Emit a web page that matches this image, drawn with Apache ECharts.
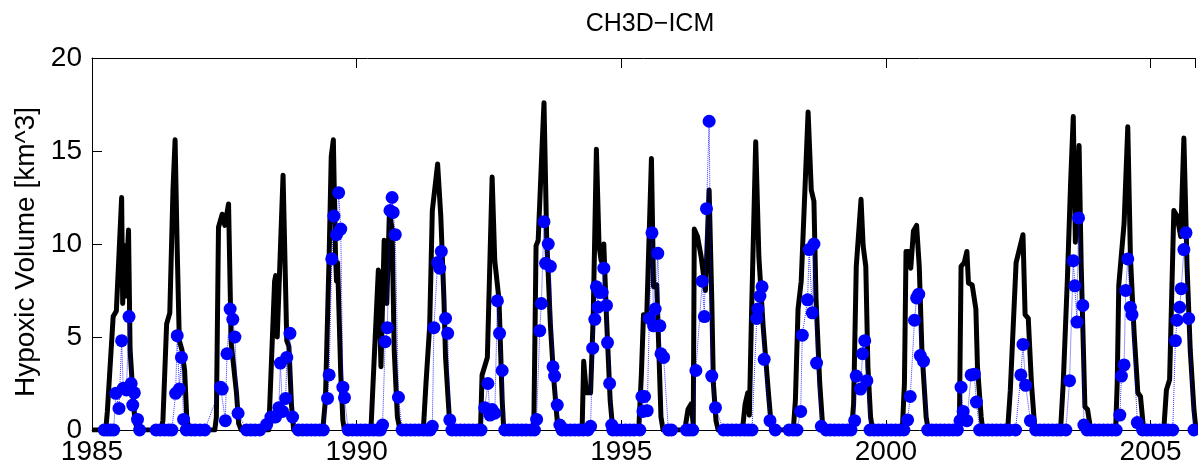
<!DOCTYPE html>
<html>
<head>
<meta charset="utf-8">
<title>CH3D-ICM</title>
<script src="https://cdn.jsdelivr.net/npm/echarts@6/dist/echarts.min.js"></script>
<style>
  html, body { margin: 0; padding: 0; background: #fff; }
  #chart { width: 1198px; height: 467px; }
</style>
</head>
<body>
<div id="chart"></div>
<script>
// model hypoxic volume (black line): [decimal year, km^3]
const model = [
  [1985.0,0],[1985.26,0],[1985.29,1.0],[1985.31,0.9],[1985.40,6.1],[1985.46,6.4],[1985.56,12.5],[1985.58,6.8],[1985.62,9.9],[1985.63,7.2],[1985.69,10.75],[1985.72,4.3],[1985.76,2.5],[1985.81,0.5],[1985.86,0],
  [1986.30,0],[1986.34,0.5],[1986.41,5.7],[1986.47,6.3],[1986.53,12.9],[1986.57,15.6],[1986.61,9.7],[1986.65,4.8],[1986.70,4.3],[1986.75,3.2],[1986.79,0.7],[1986.83,0],
  [1987.32,0],[1987.35,0.7],[1987.39,10.9],[1987.46,11.6],[1987.51,11.0],[1987.58,12.15],[1987.63,4.66],[1987.73,2.0],[1987.77,0.36],[1987.82,0],
  [1988.34,0],[1988.45,8.0],[1988.47,8.3],[1988.50,5.0],[1988.61,13.7],[1988.68,4.8],[1988.72,4.5],[1988.77,1.3],[1988.81,0],
  [1989.36,0],[1989.41,1.6],[1989.48,9.3],[1989.52,14.7],[1989.56,15.6],[1989.60,9.5],[1989.62,8.0],[1989.64,9.0],[1989.70,3.0],[1989.74,0.5],[1989.77,0],
  [1990.27,0],[1990.31,2.5],[1990.41,8.6],[1990.46,3.4],[1990.52,10.2],[1990.57,6.8],[1990.62,11.8],[1990.67,10.75],[1990.71,4.3],[1990.77,0.7],[1990.82,0],
  [1991.26,0],[1991.31,2.5],[1991.38,5.6],[1991.43,11.8],[1991.53,14.3],[1991.59,11.5],[1991.65,7.0],[1991.68,3.9],[1991.75,0.7],[1991.78,0],
  [1992.34,0],[1992.37,2.96],[1992.47,3.9],[1992.52,9.3],[1992.56,13.6],[1992.61,9.1],[1992.69,7.0],[1992.75,1.6],[1992.78,0],
  [1993.33,0],[1993.35,0.7],[1993.39,9.9],[1993.43,10.2],[1993.50,15.0],[1993.54,17.6],[1993.59,10.4],[1993.66,5.7],[1993.72,2.9],[1993.79,0.5],[1993.84,0],
  [1994.26,0],[1994.29,3.7],[1994.34,2.0],[1994.42,2.0],[1994.47,6.1],[1994.53,15.1],[1994.58,9.9],[1994.62,9.1],[1994.67,10.0],[1994.72,6.1],[1994.79,1.6],[1994.84,0],
  [1995.33,0],[1995.38,3.0],[1995.42,6.2],[1995.48,6.0],[1995.57,14.6],[1995.61,7.7],[1995.67,7.8],[1995.75,0.7],[1995.79,0],
  [1996.20,0],[1996.26,1.1],[1996.32,1.4],[1996.36,0.3],[1996.38,10.8],[1996.44,10.4],[1996.51,9.3],[1996.59,7.5],[1996.66,12.9],[1996.71,7.0],[1996.74,2.5],[1996.79,0.5],[1996.83,0],
  [1997.29,0],[1997.34,1.4],[1997.39,2.0],[1997.42,0.8],[1997.46,6.1],[1997.54,15.5],[1997.60,9.3],[1997.68,5.6],[1997.78,2.0],[1997.84,0],
  [1998.25,0],[1998.29,1.6],[1998.34,6.5],[1998.40,8.0],[1998.53,17.1],[1998.59,12.9],[1998.64,12.3],[1998.68,7.0],[1998.75,2.5],[1998.81,0],
  [1999.35,0],[1999.39,1.4],[1999.44,8.8],[1999.53,12.4],[1999.57,9.9],[1999.62,8.8],[1999.66,3.4],[1999.71,0.7],[1999.75,0],
  [2000.31,0],[2000.35,2.5],[2000.38,9.6],[2000.43,9.6],[2000.47,8.7],[2000.52,10.7],[2000.58,11.0],[2000.63,8.8],[2000.68,4.3],[2000.76,0.7],[2000.80,0],
  [2001.35,0],[2001.39,0.7],[2001.42,8.8],[2001.48,9.0],[2001.53,9.6],[2001.56,7.9],[2001.63,7.8],[2001.70,6.5],[2001.73,3.4],[2001.80,0.7],[2001.83,0],
  [2002.30,0],[2002.35,2.1],[2002.46,9.0],[2002.59,10.5],[2002.63,6.2],[2002.69,6.0],[2002.75,2.5],[2002.81,0.2],[2002.84,0],
  [2003.30,0],[2003.35,2.5],[2003.43,8.2],[2003.49,13.3],[2003.54,16.85],[2003.58,10.1],[2003.65,15.3],[2003.69,8.8],[2003.76,1.25],[2003.81,1.1],[2003.87,0],
  [2004.34,0],[2004.37,2.5],[2004.40,7.8],[2004.50,11.1],[2004.57,16.3],[2004.62,9.3],[2004.69,5.2],[2004.76,2.0],[2004.81,1.8],[2004.87,0],
  [2005.25,0],[2005.30,2.15],[2005.36,2.7],[2005.44,11.8],[2005.50,11.5],[2005.57,10.4],[2005.63,15.7],[2005.69,8.8],[2005.75,4.3],[2005.82,1.1],[2005.86,0]
];

// observed hypoxic volume (blue dots): [decimal year, km^3]
const observed = [
  [1985.23,0],[1985.29,0],[1985.35,0],[1985.41,0],[1985.45,1.97],[1985.51,1.16],[1985.56,4.8],[1985.59,2.24],[1985.65,2.15],[1985.70,6.1],[1985.74,2.5],[1985.77,1.34],[1985.80,2.0],[1985.86,0.57],[1985.90,0],
  [1986.21,0],[1986.29,0],[1986.37,0],[1986.45,0],[1986.51,0],[1986.58,1.97],[1986.61,5.07],[1986.65,2.2],[1986.69,3.9],[1986.73,0.57],[1986.78,0],[1986.87,0],[1986.95,0],[1987.04,0],[1987.13,0],
  [1987.43,2.3],[1987.46,2.2],[1987.52,0.5],[1987.55,4.1],[1987.61,6.5],[1987.66,5.95],[1987.70,5.0],[1987.76,0.9],[1987.92,0],[1988.00,0],[1988.08,0],[1988.17,0],
  [1988.30,0.3],[1988.38,0.7],[1988.43,0.7],[1988.47,0.7],[1988.53,1.2],[1988.56,3.6],[1988.60,1.0],[1988.66,1.7],[1988.68,3.9],[1988.74,5.2],[1988.79,0.7],
  [1988.90,0],[1988.98,0],[1989.06,0],[1989.14,0],[1989.22,0],[1989.30,0],[1989.37,0],
  [1989.45,1.7],[1989.48,2.96],[1989.53,9.2],[1989.57,11.5],[1989.62,10.5],[1989.66,12.76],[1989.70,10.8],[1989.74,2.3],[1989.77,1.74],
  [1989.84,0],[1989.92,0],[1990.00,0],[1990.08,0],[1990.16,0],[1990.24,0],[1990.32,0],[1990.40,0],[1990.45,0],
  [1990.49,0.27],[1990.54,4.75],[1990.58,5.5],[1990.63,11.8],[1990.67,12.5],[1990.69,11.7],[1990.73,10.5],[1990.79,1.76],
  [1990.86,0],[1990.94,0],[1991.02,0],[1991.10,0],[1991.18,0],[1991.26,0],[1991.33,0],[1991.39,0],
  [1991.43,0.2],[1991.46,5.5],[1991.53,9.0],[1991.57,8.7],[1991.60,9.6],[1991.68,6.0],[1991.72,5.2],[1991.76,0.54],
  [1991.80,0],[1991.88,0],[1991.96,0],[1992.04,0],[1992.12,0],[1992.20,0],[1992.28,0],[1992.35,0],
  [1992.42,1.2],[1992.48,2.5],[1992.52,0.8],[1992.56,1.1],[1992.61,0.9],[1992.66,6.95],[1992.70,5.2],[1992.75,3.2],
  [1992.80,0],[1992.88,0],[1992.96,0],[1993.04,0],[1993.12,0],[1993.20,0],[1993.29,0],[1993.36,0],
  [1993.40,0.57],[1993.46,5.34],[1993.49,6.8],[1993.54,11.2],[1993.57,8.96],[1993.62,10.0],[1993.66,8.8],[1993.71,3.4],[1993.74,2.9],[1993.79,1.34],[1993.84,0.27],
  [1993.88,0],[1993.96,0],[1994.04,0],[1994.12,0],[1994.20,0],[1994.28,0],[1994.37,0],
  [1994.42,0.2],[1994.46,4.4],[1994.50,5.95],[1994.53,7.7],[1994.56,6.6],[1994.59,7.4],[1994.64,7.4],[1994.67,8.7],[1994.72,6.7],[1994.74,4.7],[1994.78,2.5],[1994.82,0.27],
  [1994.84,0],[1994.92,0],[1995.00,0],[1995.08,0],[1995.16,0],[1995.24,0],[1995.35,0],
  [1995.39,1.8],[1995.41,1.0],[1995.44,1.8],[1995.49,1.04],[1995.53,6.0],[1995.58,10.6],[1995.61,5.6],[1995.64,6.5],[1995.69,9.5],[1995.73,5.6],[1995.75,4.1],[1995.80,3.9],
  [1995.89,0],[1995.95,0],[1996.23,0],[1996.29,0],[1996.35,0],
  [1996.41,3.2],[1996.53,8.0],[1996.57,6.1],[1996.61,11.9],[1996.66,16.6],[1996.71,2.9],[1996.78,1.2],
  [1996.93,0],[1997.01,0],[1997.09,0],[1997.17,0],[1997.25,0],[1997.33,0],[1997.40,0],[1997.47,0],
  [1997.56,6.0],[1997.58,6.5],[1997.62,7.2],[1997.66,7.7],[1997.70,3.8],[1997.81,0.5],
  [1997.91,0],[1998.17,0],[1998.25,0],[1998.32,0],
  [1998.39,1.0],[1998.42,5.1],[1998.52,7.0],[1998.55,9.7],[1998.61,6.3],[1998.64,10.0],[1998.69,3.6],[1998.78,0.2],
  [1998.87,0],[1998.95,0],[1999.03,0],[1999.11,0],[1999.19,0],[1999.27,0],[1999.34,0],
  [1999.41,0.5],[1999.44,2.9],[1999.52,2.2],[1999.56,4.1],[1999.60,4.8],[1999.64,2.65],
  [1999.70,0],[1999.78,0],[1999.86,0],[1999.94,0],[2000.02,0],[2000.10,0],[2000.18,0],[2000.26,0],[2000.34,0],
  [2000.41,0.54],[2000.46,1.8],[2000.54,5.9],[2000.58,7.1],[2000.62,7.3],[2000.65,4.0],[2000.71,3.7],
  [2000.79,0],[2000.87,0],[2000.95,0],[2001.03,0],[2001.11,0],[2001.19,0],[2001.27,0],[2001.35,0],
  [2001.40,0.5],[2001.42,2.3],[2001.46,1.0],[2001.53,0.5],[2001.61,2.96],[2001.67,3.0],[2001.71,1.5],
  [2001.77,0],[2001.85,0],[2001.93,0],[2002.01,0],[2002.09,0],[2002.17,0],[2002.25,0],[2002.33,0],[2002.45,0],
  [2002.55,2.96],[2002.59,4.6],[2002.64,2.4],[2002.73,0.5],
  [2002.83,0],[2002.91,0],[2002.99,0],[2003.07,0],[2003.15,0],[2003.23,0],[2003.30,0],[2003.40,0],
  [2003.47,2.65],[2003.54,9.1],[2003.57,7.75],[2003.61,5.8],[2003.64,11.4],[2003.72,6.7],[2003.74,0.27],
  [2003.80,0],[2003.87,0],[2003.95,0],[2004.03,0],[2004.11,0],[2004.19,0],[2004.27,0],[2004.35,0],
  [2004.42,0.8],[2004.45,2.9],[2004.50,3.5],[2004.53,7.5],[2004.57,9.2],[2004.62,6.6],[2004.65,6.2],[2004.75,0.4],
  [2004.85,0],[2004.93,0],[2005.01,0],[2005.09,0],[2005.17,0],[2005.25,0],[2005.33,0],[2005.42,0],
  [2005.47,4.8],[2005.50,5.9],[2005.55,6.6],[2005.58,7.6],[2005.63,9.7],[2005.67,10.6],[2005.72,6.0],[2005.82,0]
];

const yearTicks = [1985, 1990, 1995, 2000, 2005];
const volumeTicks = [0, 5, 10, 15, 20];

const font = 'Liberation Sans';
const chart = echarts.init(document.getElementById('chart'));

const xBase = {
  type: 'value',
  min: 1985,
  max: 2005.84,
  interval: 5,
  axisLine: { onZero: false, lineStyle: { color: '#000', width: 1 } },
  axisTick: { inside: true, length: 10, lineStyle: { color: '#000' } },
  splitLine: { show: false }
};

chart.setOption({
  animation: false,
  backgroundColor: '#fff',
  title: {
    text: 'CH3D\u2212ICM',
    left: 645,
    textAlign: 'center',
    top: 7,
    textStyle: { fontFamily: font, fontSize: 25, fontWeight: 'normal', color: '#000' }
  },
  grid: { left: 92, right: 0, top: 58, bottom: 37 },
  xAxis: [
    Object.assign({}, xBase, {
      position: 'bottom',
      axisLabel: {
        fontFamily: font, fontSize: 28, color: '#000', margin: 8,
        formatter: v => yearTicks.includes(v) ? String(v) : ''
      }
    }),
    Object.assign({}, xBase, {
      position: 'top',
      axisLabel: { show: false }
    })
  ],
  yAxis: {
    type: 'value',
    min: 0,
    max: 20,
    interval: 5,
    name: 'Hypoxic Volume [km^3]',
    nameLocation: 'middle',
    nameRotate: 90,
    nameGap: 52,
    nameTextStyle: { fontFamily: font, fontSize: 28, color: '#000', padding: [0, 16, 0, 0] },
    axisLine: { show: true, lineStyle: { color: '#000', width: 1 } },
    axisTick: { inside: true, length: 10, lineStyle: { color: '#000' } },
    axisLabel: {
      fontFamily: font, fontSize: 28, color: '#000', margin: 10,
      formatter: v => volumeTicks.includes(v) ? String(v) : ''
    },
    splitLine: { show: false }
  },
  series: [
    {
      name: 'model',
      type: 'line',
      data: model,
      symbol: 'none',
      lineStyle: { color: '#000', width: 5, join: 'round' },
      z: 2
    },
    {
      name: 'observed',
      type: 'line',
      data: observed,
      symbol: 'circle',
      symbolSize: 13,
      showAllSymbol: true,
      itemStyle: { color: '#0000ff' },
      lineStyle: { color: '#0000ff', width: 1, type: 'dotted', opacity: 0.8 },
      z: 3
    }
  ]
});
</script>
</body>
</html>
